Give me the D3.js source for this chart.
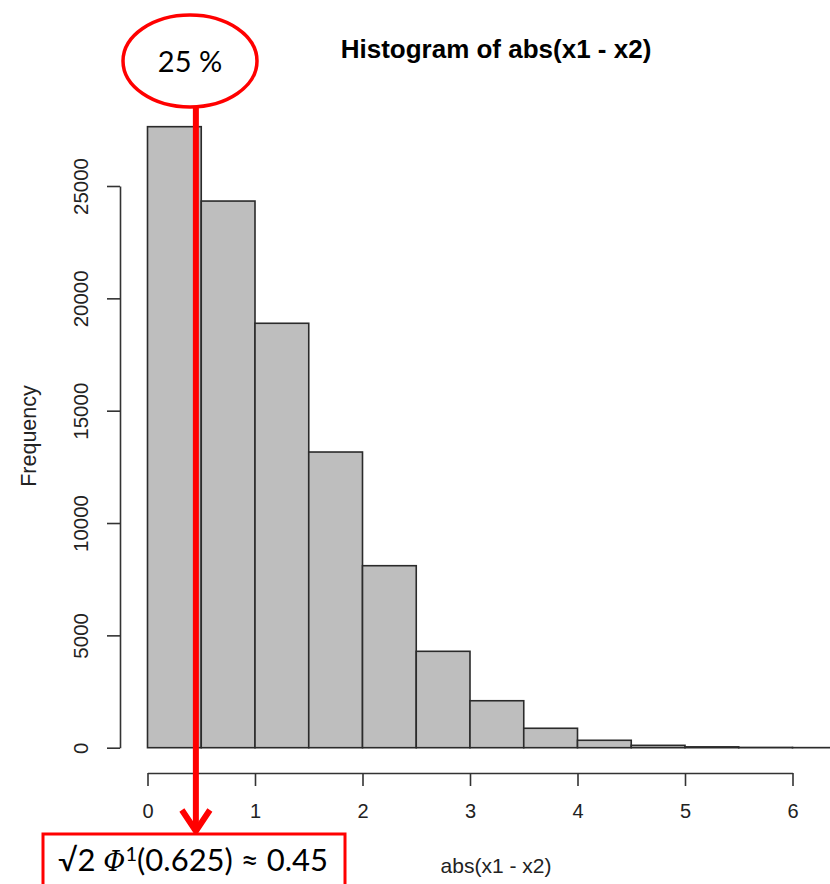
<!DOCTYPE html>
<html>
<head>
<meta charset="utf-8">
<script src="https://cdn.jsdelivr.net/npm/d3@7"></script>
<style>
  html, body { margin: 0; padding: 0; background: #fff; }
  svg { display: block; }
</style>
</head>
<body>
<svg id="chart" width="830" height="884"></svg>
<script>
// Histogram of abs(x1 - x2): bin edges and counts
const binEdges = [0, 0.5, 1, 1.5, 2, 2.5, 3, 3.5, 4, 4.5, 5, 5.5, 6, 6.5, 7];
const binCounts = [27640, 24330, 18890, 13160, 8100, 4290, 2090, 865, 330, 105, 38, 12, 4, 2];
const xTicks = [0, 1, 2, 3, 4, 5, 6];
const yTicks = [0, 5000, 10000, 15000, 20000, 25000];

// Annotation values
const quantileX = 0.45;
const bubbleLabel = "25 %";

const svg = d3.select("#chart");
const axisFont = "'Liberation Sans', Arial, sans-serif";

const x = d3.scaleLinear().domain([0, 6]).range([147.5, 792.5]);
const y = d3.scaleLinear().domain([0, 25000]).range([747.7, 186]);

// bars
const bins = binCounts.map((c, i) => ({ x0: binEdges[i], x1: binEdges[i + 1], n: c }));
svg.append("g")
  .selectAll("rect")
  .data(bins)
  .join("rect")
  .attr("x", d => x(d.x0))
  .attr("y", d => y(d.n))
  .attr("width", d => x(d.x1) - x(d.x0))
  .attr("height", d => y(0) - y(d.n))
  .attr("fill", "#bebebe")
  .attr("stroke", "#2b2b2b")
  .attr("stroke-width", 1.6);

// x axis (drawn under the plot, spanning the tick range only)
const gx = svg.append("g")
  .attr("transform", "translate(0,773)")
  .call(d3.axisBottom(x).tickValues(xTicks).tickFormat(d3.format("d"))
        .tickSizeInner(13).tickSizeOuter(0).tickPadding(18));
gx.select(".domain").attr("stroke", "#333").attr("stroke-width", 1.6);
gx.selectAll(".tick line").attr("stroke", "#333").attr("stroke-width", 1.6);
gx.selectAll(".tick text")
  .attr("font-family", axisFont).attr("font-size", 20).attr("fill", "#222");

// y axis
const gy = svg.append("g")
  .attr("transform", "translate(120,0)")
  .call(d3.axisLeft(y).tickValues(yTicks).tickFormat(d3.format("d"))
        .tickSizeInner(13).tickSizeOuter(0).tickPadding(0));
gy.select(".domain").attr("stroke", "#333").attr("stroke-width", 1.6);
gy.selectAll(".tick line").attr("stroke", "#333").attr("stroke-width", 1.6);
gy.selectAll(".tick text")
  .attr("font-family", axisFont).attr("font-size", 20.5).attr("fill", "#222")
  .attr("text-anchor", "middle")
  .attr("x", null).attr("dy", null)
  .attr("transform", "translate(-32,0) rotate(-90)");

// titles
svg.append("text")
  .attr("x", 496).attr("y", 58)
  .attr("text-anchor", "middle")
  .attr("font-family", axisFont).attr("font-weight", "bold")
  .attr("font-size", 26).attr("fill", "#000")
  .text("Histogram of abs(x1 - x2)");

svg.append("text")
  .attr("x", 496).attr("y", 873)
  .attr("text-anchor", "middle")
  .attr("font-family", axisFont).attr("font-size", 21).attr("fill", "#222")
  .text("abs(x1 - x2)");

svg.append("text")
  .attr("transform", "translate(36,436) rotate(-90)")
  .attr("text-anchor", "middle")
  .attr("font-family", axisFont).attr("font-size", 21.5).attr("fill", "#222")
  .text("Frequency");

// red annotation: bubble, arrow down to the quantile, formula box
const red = "#ff0000";
const ax = x(quantileX);

svg.append("line")
  .attr("x1", ax).attr("x2", ax)
  .attr("y1", 106).attr("y2", 830)
  .attr("stroke", red).attr("stroke-width", 6);

svg.append("polyline")
  .attr("points", [[ax - 14, 810], [ax, 831], [ax + 14, 810]].map(p => p.join(",")).join(" "))
  .attr("fill", "none")
  .attr("stroke", red).attr("stroke-width", 6)
  .attr("stroke-linejoin", "miter").attr("stroke-linecap", "butt");

svg.append("ellipse")
  .attr("cx", 190).attr("cy", 61)
  .attr("rx", 67).attr("ry", 46)
  .attr("fill", "#fff")
  .attr("stroke", red).attr("stroke-width", 3.5);

svg.append("text")
  .attr("x", 190).attr("y", 72)
  .attr("text-anchor", "middle")
  .attr("font-family", "Lato, 'Open Sans', sans-serif")
  .attr("font-size", 29).attr("fill", "#000")
  .text(bubbleLabel);

svg.append("rect")
  .attr("x", 43).attr("y", 834)
  .attr("width", 302).attr("height", 60)
  .attr("fill", "#fff")
  .attr("stroke", red).attr("stroke-width", 3);

const formula = svg.append("text")
  .attr("x", 193).attr("y", 871)
  .attr("text-anchor", "middle")
  .attr("font-family", "Lato, 'Open Sans', sans-serif")
  .attr("font-size", 31).attr("fill", "#000");
formula.append("tspan").text("√2 ");
formula.append("tspan")
  .attr("font-family", "'DejaVu Serif', serif")
  .attr("font-style", "italic")
  .attr("font-size", 27)
  .text("Φ");
formula.append("tspan")
  .attr("font-size", 20).attr("dy", -10)
  .text("1");
formula.append("tspan")
  .attr("dy", 10)
  .text("(0.625) ≈ " + quantileX.toFixed(2));
</script>
</body>
</html>
